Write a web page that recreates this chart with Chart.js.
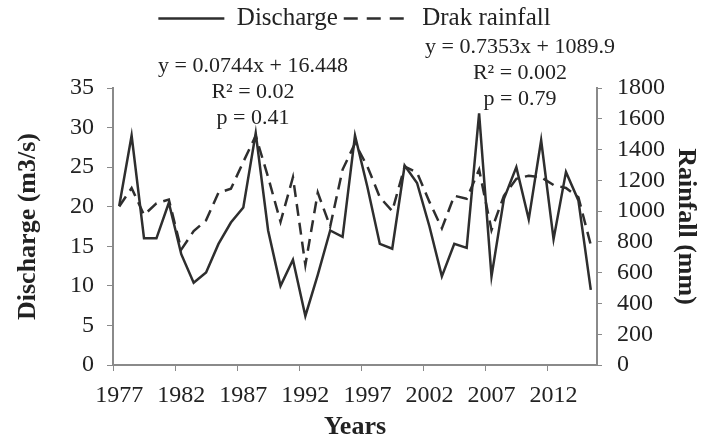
<!DOCTYPE html>
<html>
<head>
<meta charset="utf-8">
<script src="https://cdn.jsdelivr.net/npm/chart.js@4/dist/chart.umd.min.js"></script>
<style>
  body { margin: 0; background: #fff; }
  #wrap { width: 709px; height: 445px; position: relative; }
</style>
</head>
<body>
<div id="wrap"><canvas id="c"></canvas></div>
<script>
// Data
const years = ['1977', '1978', '1979', '1980', '1981', '1982', '1983', '1984', '1985', '1986',
  '1987', '1988', '1989', '1990', '1991', '1992', '1993', '1994', '1995', '1996',
  '1997', '1998', '1999', '2000', '2001', '2002', '2003', '2004', '2005', '2006',
  '2007', '2008', '2009', '2010', '2011', '2012', '2013', '2014', '2015']

const discharge = [20.1, 29.0, 16.0, 16.0, 20.5, 14.0, 10.4, 11.7, 15.3, 18.0,
  19.9, 29.3, 17.0, 10.0, 13.3, 6.2, 11.4, 17.0, 16.2, 29.0,
  22.5, 15.3, 14.7, 25.2, 23.0, 17.5, 11.2, 15.3, 14.8, 31.8,
  11.2, 21.0, 25.0, 18.4, 28.4, 15.9, 24.4, 20.8, 9.5]

const rainfall = [1030, 1150, 975, 1050, 1075, 750, 870, 940, 1120, 1145,
  1320, 1490, 1220, 930, 1220, 650, 1120, 900, 1270, 1440,
  1290, 1090, 1000, 1290, 1250, 1060, 888, 1100, 1080, 1270,
  877, 1100, 1210, 1230, 1220, 1170, 1150, 1090, 780]

const dischargeFit = ['y = 0.0744x + 16.448', 'R² = 0.02', 'p = 0.41']
const rainfallFit = ['y = 0.7353x + 1089.9', 'R² = 0.002', 'p = 0.79']

const serif = '"Liberation Serif", "Times New Roman", serif'
const axisGray = '#8a8a8a'
const ink = '#2e2e2e'

// fixed height for the legend box so the plot starts where the original does
const legendHeight = {
  id: 'legendHeight',
  beforeInit(chart) {
    const fit = chart.legend.fit
    chart.legend.fit = function () {
      fit.bind(chart.legend)()
      this.height = 88
    }
  }
}

// regression notes
const fitNotes = {
  id: 'fitNotes',
  afterDraw(chart) {
    const ctx = chart.ctx
    ctx.save()
    ctx.font = '22px ' + serif
    ctx.fillStyle = '#222'
    ctx.textAlign = 'center'
    ctx.textBaseline = 'middle'
    dischargeFit.forEach((t, i) => ctx.fillText(t, 253, 66 + i * 26))
    rainfallFit.forEach((t, i) => ctx.fillText(t, 520, 47 + i * 26))
    ctx.restore()
  }
}

Chart.defaults.font.family = serif
Chart.defaults.color = '#222'

new Chart(document.getElementById('c'), {
  type: 'line',
  data: {
    labels: years,
    datasets: [
      {
        label: 'Discharge',
        data: discharge,
        yAxisID: 'y',
        borderColor: ink,
        backgroundColor: ink,
        borderWidth: 2.5,
        pointRadius: 0,
        tension: 0,
        fill: false
      },
      {
        label: 'Drak rainfall',
        data: rainfall,
        yAxisID: 'y1',
        borderColor: ink,
        backgroundColor: ink,
        borderWidth: 2.5,
        borderDash: [12, 7],
        pointRadius: 0,
        tension: 0,
        fill: false
      }
    ]
  },
  options: {
    responsive: true,
    maintainAspectRatio: false,
    animation: false,
    layout: { padding: 0 },
    plugins: {
      tooltip: { enabled: false },
      legend: {
        position: 'top',
        labels: {
          usePointStyle: true,
          pointStyle: 'line',
          pointStyleWidth: 66,
          padding: 6,
          color: '#222',
          font: { size: 25, family: serif },
          generateLabels(chart) {
            const items = Chart.defaults.plugins.legend.labels.generateLabels(chart)
            items.forEach(it => {
              it.lineDash = chart.data.datasets[it.datasetIndex].borderDash ? [14, 9] : []
              it.lineWidth = 2.5
            })
            return items
          }
        }
      }
    },
    scales: {
      x: {
        type: 'category',
        offset: true,
        afterFit: s => { s.height = 80 },
        border: { color: axisGray, width: 2 },
        grid: {
          offset: true,
          drawOnChartArea: false,
          tickLength: 6,
          tickColor: c => (c.index % 5 === 0 ? axisGray : 'transparent')
        },
        ticks: {
          autoSkip: false,
          maxRotation: 0,
          padding: 10,
          font: { size: 24 },
          callback: function (v, i) { return i % 5 === 0 ? this.getLabelForValue(v) : '' }
        },
        title: {
          display: true,
          text: 'Years',
          font: { size: 26, weight: 'bold' },
          padding: { top: 0, bottom: 2 }
        }
      },
      y: {
        position: 'left',
        min: 0,
        max: 35,
        afterFit: s => { s.width = 113 },
        border: { color: axisGray, width: 2 },
        grid: { drawOnChartArea: false, tickLength: 6, tickColor: axisGray },
        ticks: { stepSize: 5, autoSkip: false, padding: 13, font: { size: 24 } },
        title: {
          display: true,
          text: 'Discharge (m3/s)',
          font: { size: 26, weight: 'bold' },
          padding: { top: 13, bottom: 0 }
        }
      },
      y1: {
        position: 'right',
        min: 0,
        max: 1800,
        afterFit: s => { s.width = 112 },
        border: { color: axisGray, width: 2 },
        grid: { drawOnChartArea: false, tickLength: 5, tickColor: axisGray },
        ticks: {
          stepSize: 200,
          autoSkip: false,
          padding: 15,
          font: { size: 24 },
          callback: v => String(v)
        },
        title: {
          display: true,
          text: 'Rainfall (mm)',
          font: { size: 26, weight: 'bold' },
          padding: { top: 8, bottom: 0 }
        }
      }
    }
  },
  plugins: [legendHeight, fitNotes]
})
</script>
</body>
</html>
